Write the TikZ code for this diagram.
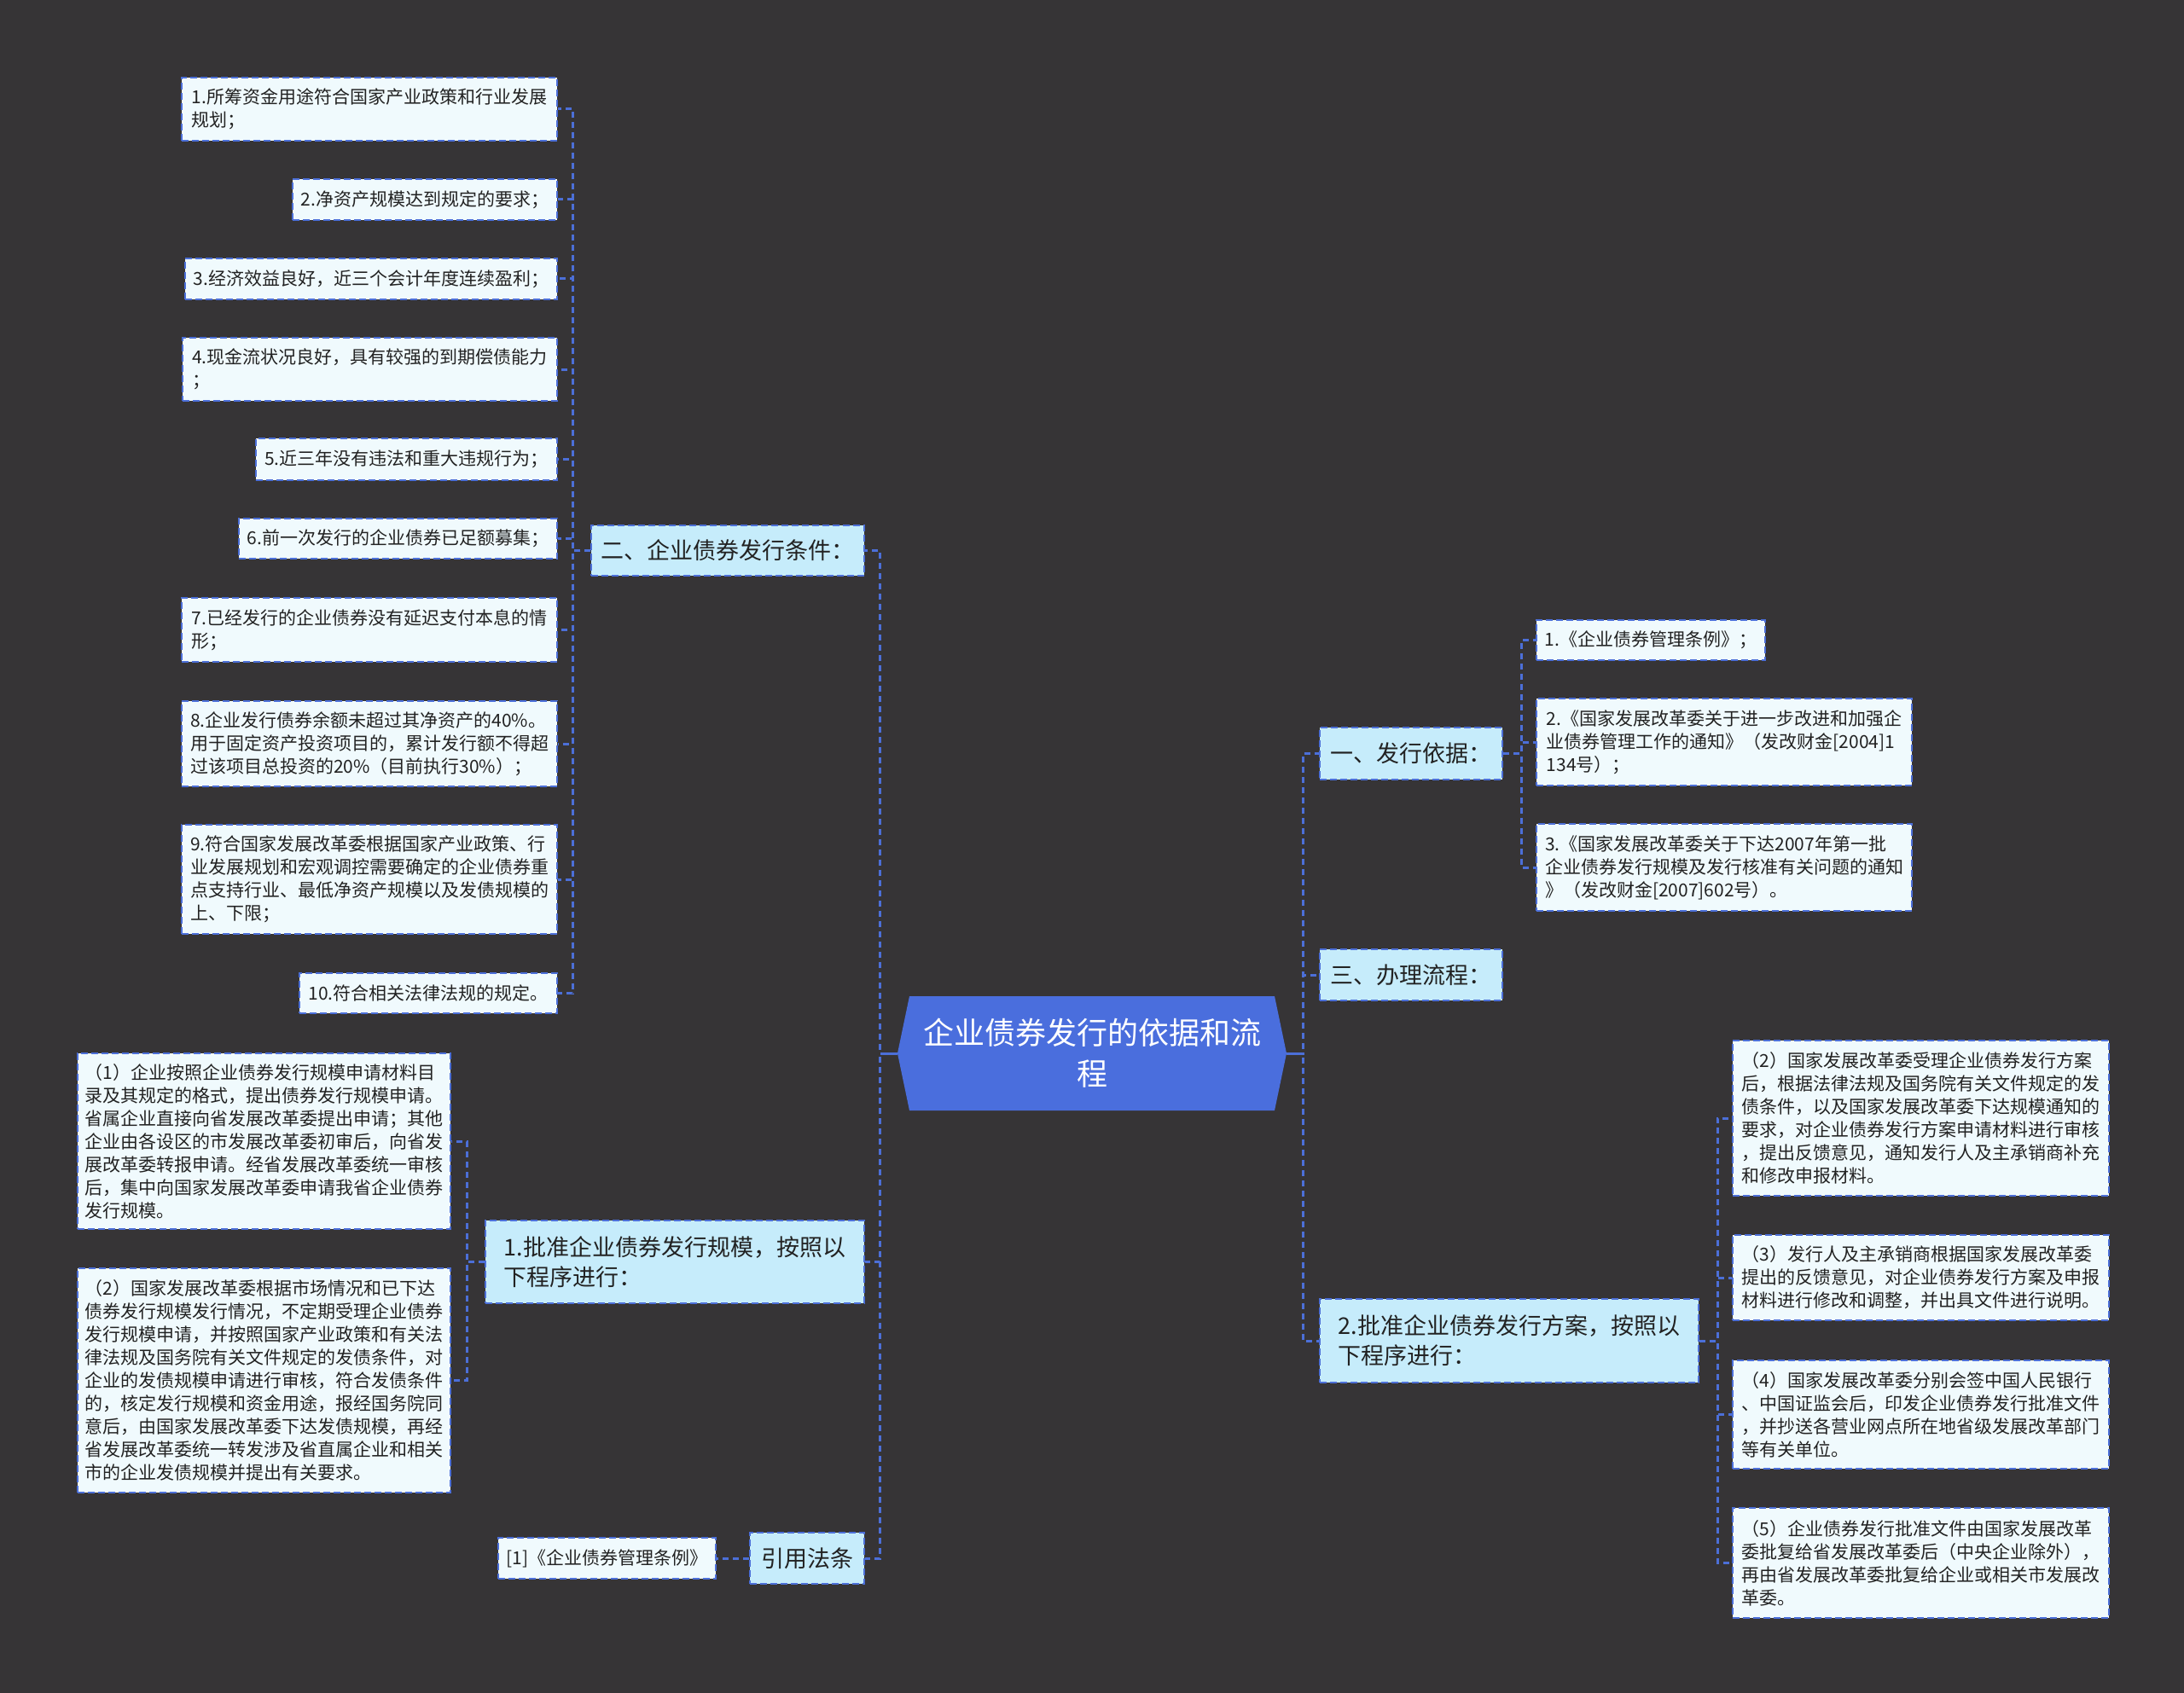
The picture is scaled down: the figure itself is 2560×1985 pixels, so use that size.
\documentclass[tikz,border=0pt]{standalone}
\usepackage{fontspec}
\setmainfont{Noto Sans CJK SC}
\definecolor{bgc}{HTML}{363436}
\definecolor{lineb}{HTML}{4C6FD8}
\definecolor{leaff}{HTML}{F0FAFD}
\definecolor{brf}{HTML}{C6ECFB}
\definecolor{cenf}{HTML}{4A6EDD}
\definecolor{txt}{HTML}{222222}
\begin{document}
\begin{tikzpicture}[x=1pt,y=-1pt,
 bx/.style 2 args={minimum width=#1pt, minimum height=#2pt},
 leaf/.style={draw=lineb, fill=leaff, line width=2pt, dash pattern=on 8pt off 4pt, anchor=north west, inner xsep=8pt, inner ysep=3pt, align=left, text=txt, font=\fontsize{21pt}{27pt}\selectfont},
 branch/.style={leaf, fill=brf, font=\fontsize{27pt}{35pt}\selectfont},
 conn/.style={draw=lineb, line width=3pt, dash pattern=on 7pt off 5pt},
 stub/.style={draw=lineb, line width=3pt}]
\fill[bgc] (0,0) rectangle (2560,1985);
\useasboundingbox (0,0) rectangle (2560,1985);

% center
\node[minimum width=456pt, minimum height=134pt, inner sep=0pt, align=center, text=white,
  font=\fontsize{36pt}{48pt}\selectfont,
  path picture={\fill[cenf] (path picture bounding box.west) -- ([xshift=14pt]path picture bounding box.north west) -- ([xshift=-14pt]path picture bounding box.north east) -- (path picture bounding box.east) -- ([xshift=-14pt]path picture bounding box.south east) -- ([xshift=14pt]path picture bounding box.south west) -- cycle;}]
  (center) at (1280,1235) {企业债券发行的依据和流\\程};

% left branches
\node[branch, bx={320}{59}] (B2) at (692,615) {二、企业债券发行条件：};
\node[branch, bx={444}{97}] (B1L) at (568,1430) {1.批准企业债券发行规模，按照以\\下程序进行：};
\node[branch, bx={134}{60}] (cite) at (878,1796) {引用法条};

% conditions
\node[leaf, bx={440}{74}] (c1) at (212,90) {1.所筹资金用途符合国家产业政策和行业发展\\规划；};
\node[leaf, bx={310}{48}] (c2) at (342,209) {2.净资产规模达到规定的要求；};
\node[leaf, bx={436}{48}] (c3) at (216,302) {3.经济效益良好，近三个会计年度连续盈利；};
\node[leaf, bx={439}{74}] (c4) at (213,395) {4.现金流状况良好，具有较强的到期偿债能力\\；};
\node[leaf, bx={353}{49}] (c5) at (299,513) {5.近三年没有违法和重大违规行为；};
\node[leaf, bx={373}{47}] (c6) at (279,607) {6.前一次发行的企业债券已足额募集；};
\node[leaf, bx={440}{75}] (c7) at (212,700) {7.已经发行的企业债券没有延迟支付本息的情\\形；};
\node[leaf, bx={440}{100}] (c8) at (212,821) {8.企业发行债券余额未超过其净资产的40\%。\\用于固定资产投资项目的，累计发行额不得超\\过该项目总投资的20\%（目前执行30\%）；};
\node[leaf, bx={440}{128}] (c9) at (212,966) {9.符合国家发展改革委根据国家产业政策、行\\业发展规划和宏观调控需要确定的企业债券重\\点支持行业、最低净资产规模以及发债规模的\\上、下限；};
\node[leaf, bx={302}{47}] (c10) at (350,1140) {10.符合相关法律法规的规定。};

% left procedure
\node[leaf, bx={437}{206}] (L1) at (90,1234) {（1）企业按照企业债券发行规模申请材料目\\录及其规定的格式，提出债券发行规模申请。\\省属企业直接向省发展改革委提出申请；其他\\企业由各设区的市发展改革委初审后，向省发\\展改革委转报申请。经省发展改革委统一审核\\后，集中向国家发展改革委申请我省企业债券\\发行规模。};
\node[leaf, bx={437}{263}] (L2) at (90,1486) {（2）国家发展改革委根据市场情况和已下达\\债券发行规模发行情况，不定期受理企业债券\\发行规模申请，并按照国家产业政策和有关法\\律法规及国务院有关文件规定的发债条件，对\\企业的发债规模申请进行审核，符合发债条件\\的，核定发行规模和资金用途，报经国务院同\\意后，由国家发展改革委下达发债规模，再经\\省发展改革委统一转发涉及省直属企业和相关\\市的企业发债规模并提出有关要求。};
\node[leaf, bx={255}{48}] (ref) at (583,1802) {[1]《企业债券管理条例》};

% right branches
\node[branch, bx={214}{61}] (R1) at (1546,852) {一、发行依据：};
\node[branch, bx={214}{60}] (R3) at (1546,1112) {三、办理流程：};
\node[branch, bx={444}{98}] (R2) at (1546,1522) {2.批准企业债券发行方案，按照以\\下程序进行：};

\node[leaf, bx={268}{47}] (r1) at (1800,726) {1.《企业债券管理条例》；};
\node[leaf, bx={440}{102}] (r2) at (1800,818) {2.《国家发展改革委关于进一步改进和加强企\\业债券管理工作的通知》（发改财金[2004]1\\134号）；};
\node[leaf, bx={440}{102}] (r3) at (1800,965) {3.《国家发展改革委关于下达2007年第一批\\企业债券发行规模及发行核准有关问题的通知\\》（发改财金[2007]602号）。};

\node[leaf, bx={441}{182}] (p2) at (2030,1219) {（2）国家发展改革委受理企业债券发行方案\\后，根据法律法规及国务院有关文件规定的发\\债条件，以及国家发展改革委下达规模通知的\\要求，对企业债券发行方案申请材料进行审核\\，提出反馈意见，通知发行人及主承销商补充\\和修改申报材料。};
\node[leaf, bx={441}{100}] (p3) at (2030,1447) {（3）发行人及主承销商根据国家发展改革委\\提出的反馈意见，对企业债券发行方案及申报\\材料进行修改和调整，并出具文件进行说明。};
\node[leaf, bx={441}{127}] (p4) at (2030,1594) {（4）国家发展改革委分别会签中国人民银行\\、中国证监会后，印发企业债券发行批准文件\\，并抄送各营业网点所在地省级发展改革部门\\等有关单位。};
\node[leaf, bx={441}{129}] (p5) at (2030,1767) {（5）企业债券发行批准文件由国家发展改革\\委批复给省发展改革委后（中央企业除外），\\再由省发展改革委批复给企业或相关市发展改\\革委。};

% connectors
\foreach \n in {B2,B1L,cite} \draw[conn] (center.west) -- ++(-20,0) |- (\n.east);
\draw[stub] (center.west) -- ++(-20,0);
\foreach \n in {c1,c2,c3,c4,c5,c6,c7,c8,c9,c10} \draw[conn] (B2.west) -- ++(-21,0) |- (\n.east);
\foreach \n in {L1,L2} \draw[conn] (B1L.west) -- ++(-21,0) |- (\n.east);
\draw[conn] (cite.west) -- (ref.east);
\foreach \n in {R1,R3,R2} \draw[conn] (center.east) -- ++(19,0) |- (\n.west);
\draw[stub] (center.east) -- ++(19,0);
\foreach \n in {r1,r2,r3} \draw[conn] (R1.east) -- ++(21,0) |- (\n.west);
\foreach \n in {p2,p3,p4,p5} \draw[conn] (R2.east) -- ++(21,0) |- (\n.west);
\end{tikzpicture}
\end{document}
